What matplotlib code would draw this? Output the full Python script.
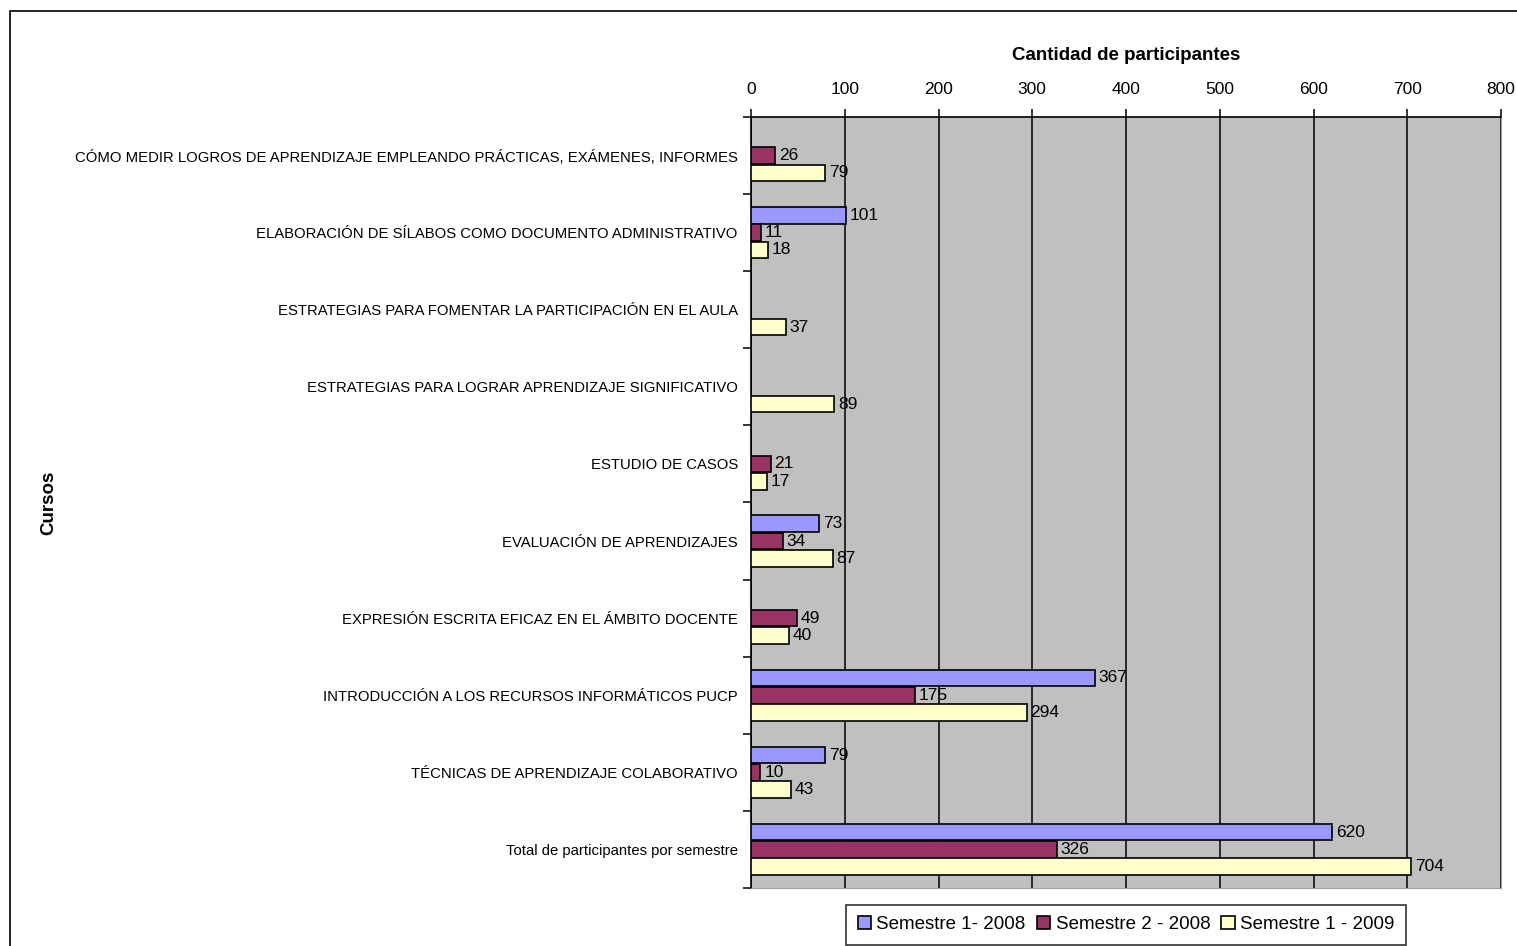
import numpy as np
import matplotlib.pyplot as plt
from matplotlib.patches import Rectangle
from matplotlib.ticker import MultipleLocator

# === Data ===
cursos = [
    "CÓMO MEDIR LOGROS DE APRENDIZAJE EMPLEANDO PRÁCTICAS, EXÁMENES, INFORMES",
    "ELABORACIÓN DE SÍLABOS COMO DOCUMENTO ADMINISTRATIVO",
    "ESTRATEGIAS PARA FOMENTAR LA PARTICIPACIÓN EN EL AULA",
    "ESTRATEGIAS PARA LOGRAR APRENDIZAJE SIGNIFICATIVO",
    "ESTUDIO DE CASOS",
    "EVALUACIÓN DE APRENDIZAJES",
    "EXPRESIÓN ESCRITA EFICAZ EN EL ÁMBITO DOCENTE",
    "INTRODUCCIÓN A LOS RECURSOS INFORMÁTICOS PUCP",
    "TÉCNICAS DE APRENDIZAJE COLABORATIVO",
    "Total de participantes por semestre",
]
sem1_2008 = [np.nan, 101, np.nan, np.nan, np.nan, 73, np.nan, 367, 79, 620]
sem2_2008 = [26, 11, np.nan, np.nan, 21, 34, 49, 175, 10, 326]
sem1_2009 = [79, 18, 37, 89, 17, 87, 40, 294, 43, 704]

series_names = ["Semestre 1- 2008", "Semestre 2 - 2008", "Semestre 1 - 2009"]
series_vals = [sem1_2008, sem2_2008, sem1_2009]
colors = ["#9999FF", "#993366", "#FFFFCC"]

plt.rcParams['font.family'] = ['Liberation Sans', 'DejaVu Sans']

fig = plt.figure(figsize=(15.17, 9.46), dpi=100)
ax = fig.add_axes([751 / 1517, 1 - 888 / 946, 750 / 1517, 771 / 946])
ax.set_facecolor("#C0C0C0")

# === Bars ===
y = np.arange(len(cursos))
h = 0.215
offsets = [-0.224, 0.0, 0.224]
for name, vals, col, off in zip(series_names, series_vals, colors, offsets):
    vals = np.array(vals, dtype=float)
    mask = ~np.isnan(vals)
    bars = ax.barh(y[mask] + off, vals[mask], height=h, color=col,
                   edgecolor="black", linewidth=1.2, label=name, zorder=3)
    for b, v in zip(bars, vals[mask]):
        ax.text(b.get_width() + 4, b.get_y() + b.get_height() / 2,
                f"{int(v)}", va="center", ha="left", fontsize=12.5, zorder=4)

# === Axes ===
ax.set_xlim(0, 800)
ax.set_ylim(len(cursos) - 0.5, -0.5)
ax.xaxis.set_major_locator(MultipleLocator(100))
ax.xaxis.tick_top()
ax.xaxis.set_label_position("top")
ax.grid(axis="x", color="black", linewidth=1.1, zorder=1)
ax.set_axisbelow(True)

ax.set_yticks(y)
ax.set_yticklabels(cursos, fontsize=10.7)
ax.set_yticks(np.arange(len(cursos) + 1) - 0.5, minor=True)
ax.tick_params(axis="y", which="major", length=0, pad=9.5)
ax.tick_params(axis="y", which="minor", length=6, width=1.1, direction="out")
ax.tick_params(axis="x", top=True, length=6, width=1.1, pad=8.5, labelsize=12.5)

for s in ["right", "bottom"]:
    ax.spines[s].set_color("#A0A0A0")
    ax.spines[s].set_linewidth(0.8)
for s in ["top", "left"]:
    ax.spines[s].set_linewidth(1.2)

ax.set_xlabel("Cantidad de participantes", fontsize=13.5, fontweight="bold", labelpad=16)
fig.text(49 / 1517, 1 - 503 / 946, "Cursos", rotation=90, va="center", ha="center",
         fontsize=13.5, fontweight="bold")

# === Legend ===
leg = ax.legend(loc="upper center", bbox_to_anchor=(0.5, -0.022), ncol=3,
                frameon=True, fancybox=False, edgecolor="black", fontsize=13.5,
                handlelength=0.7, handleheight=0.7, handletextpad=0.3,
                columnspacing=0.6, borderpad=0.6, borderaxespad=0)
leg.get_frame().set_linewidth(1.2)

# === Outer frame ===
fig.patches.append(Rectangle((10 / 1517, -0.1), 1.2, 1 - 11 / 946 + 0.1,
                             transform=fig.transFigure, fill=False,
                             edgecolor="black", linewidth=1.2))

fig.savefig("out.png", dpi=100)
